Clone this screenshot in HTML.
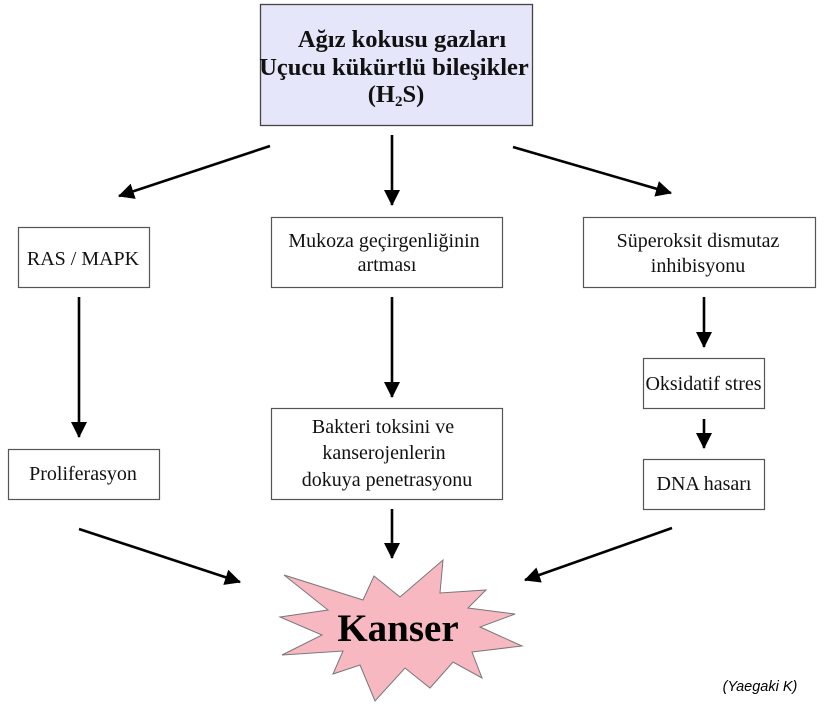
<!DOCTYPE html>
<html>
<head>
<meta charset="utf-8">
<style>
html,body{margin:0;padding:0;background:#fff;}
svg{display:block;}
.t{font-family:"Liberation Serif",serif;font-size:20px;fill:#111;text-anchor:middle;}
.b{font-family:"Liberation Serif",serif;font-size:24.5px;font-weight:bold;fill:#111;text-anchor:middle;}
.box{fill:#fff;stroke:#555;stroke-width:1.2;}
.ar{stroke:#000;stroke-width:2.6;fill:none;marker-end:url(#ah);}
</style>
</head>
<body>
<svg width="836" height="711" viewBox="0 0 836 711" xmlns="http://www.w3.org/2000/svg">
<defs>
<marker id="ah" markerWidth="16" markerHeight="16" refX="15" refY="8" orient="auto" markerUnits="userSpaceOnUse">
<path d="M0,0 L16,8 L0,16 z" fill="#000"/>
</marker>
</defs>

<!-- top box -->
<rect x="260.5" y="4.5" width="272" height="121" fill="#E6E6FA" stroke="#444" stroke-width="1.3"/>
<text class="b" x="402" y="47">Ağız kokusu gazları</text>
<text class="b" x="394" y="75">Uçucu kükürtlü bileşikler</text>
<text class="b" x="396" y="102">(H<tspan font-size="15" dy="4">2</tspan><tspan dy="-4">S)</tspan></text>

<!-- boxes -->
<rect class="box" x="18.5" y="227.5" width="131" height="60"/>
<text class="t" x="83" y="265">RAS / MAPK</text>

<rect class="box" x="271.5" y="217.5" width="231" height="70"/>
<text class="t" x="384" y="247">Mukoza geçirgenliğinin</text>
<text class="t" x="387" y="271">artması</text>

<rect class="box" x="583.5" y="217.5" width="232" height="70"/>
<text class="t" x="698" y="247">Süperoksit dismutaz</text>
<text class="t" x="698" y="272">inhibisyonu</text>

<rect class="box" x="643.5" y="358.5" width="121" height="50"/>
<text class="t" x="703.5" y="390">Oksidatif stres</text>

<rect class="box" x="643.5" y="459.5" width="121" height="50"/>
<text class="t" x="704" y="490">DNA hasarı</text>

<rect class="box" x="8.5" y="449.5" width="151" height="50"/>
<text class="t" x="83" y="480">Proliferasyon</text>

<rect class="box" x="271.5" y="408.5" width="231" height="91"/>
<text class="t" x="383" y="433">Bakteri toksini ve</text>
<text class="t" x="384" y="459">kanserojenlerin</text>
<text class="t" x="387" y="486">dokuya penetrasyonu</text>

<!-- arrows -->
<line class="ar" x1="270" y1="146" x2="119" y2="196"/>
<line class="ar" x1="392" y1="135" x2="392" y2="205"/>
<line class="ar" x1="513" y1="147" x2="671" y2="193"/>
<line class="ar" x1="79" y1="297" x2="79" y2="437"/>
<line class="ar" x1="392" y1="297" x2="392" y2="397"/>
<line class="ar" x1="704" y1="297" x2="704" y2="347"/>
<line class="ar" x1="704" y1="419" x2="704" y2="448"/>
<line class="ar" x1="79" y1="529" x2="240" y2="582"/>
<line class="ar" x1="392" y1="509" x2="392" y2="558"/>
<line class="ar" x1="672" y1="528" x2="525" y2="580"/>

<!-- star -->
<polygon points="284,575 363,600 374,576 400,597 443,560 440,593 486,590 468,608 515,614 480,627 522,646 472,652 482,678 453,662 430,688 405,668 375,701 360,665 333,674 343,651 282,655 322,635 280,617 328,610" fill="#F8B8C2" stroke="#777" stroke-width="1"/>
<text x="398" y="641" font-family="Liberation Serif, serif" font-size="39" font-weight="bold" fill="#000" text-anchor="middle">Kanser</text>

<text x="760" y="691" font-family="Liberation Sans, sans-serif" font-size="14.5" font-style="italic" fill="#000" text-anchor="middle">(Yaegaki K)</text>
</svg>
</body>
</html>
